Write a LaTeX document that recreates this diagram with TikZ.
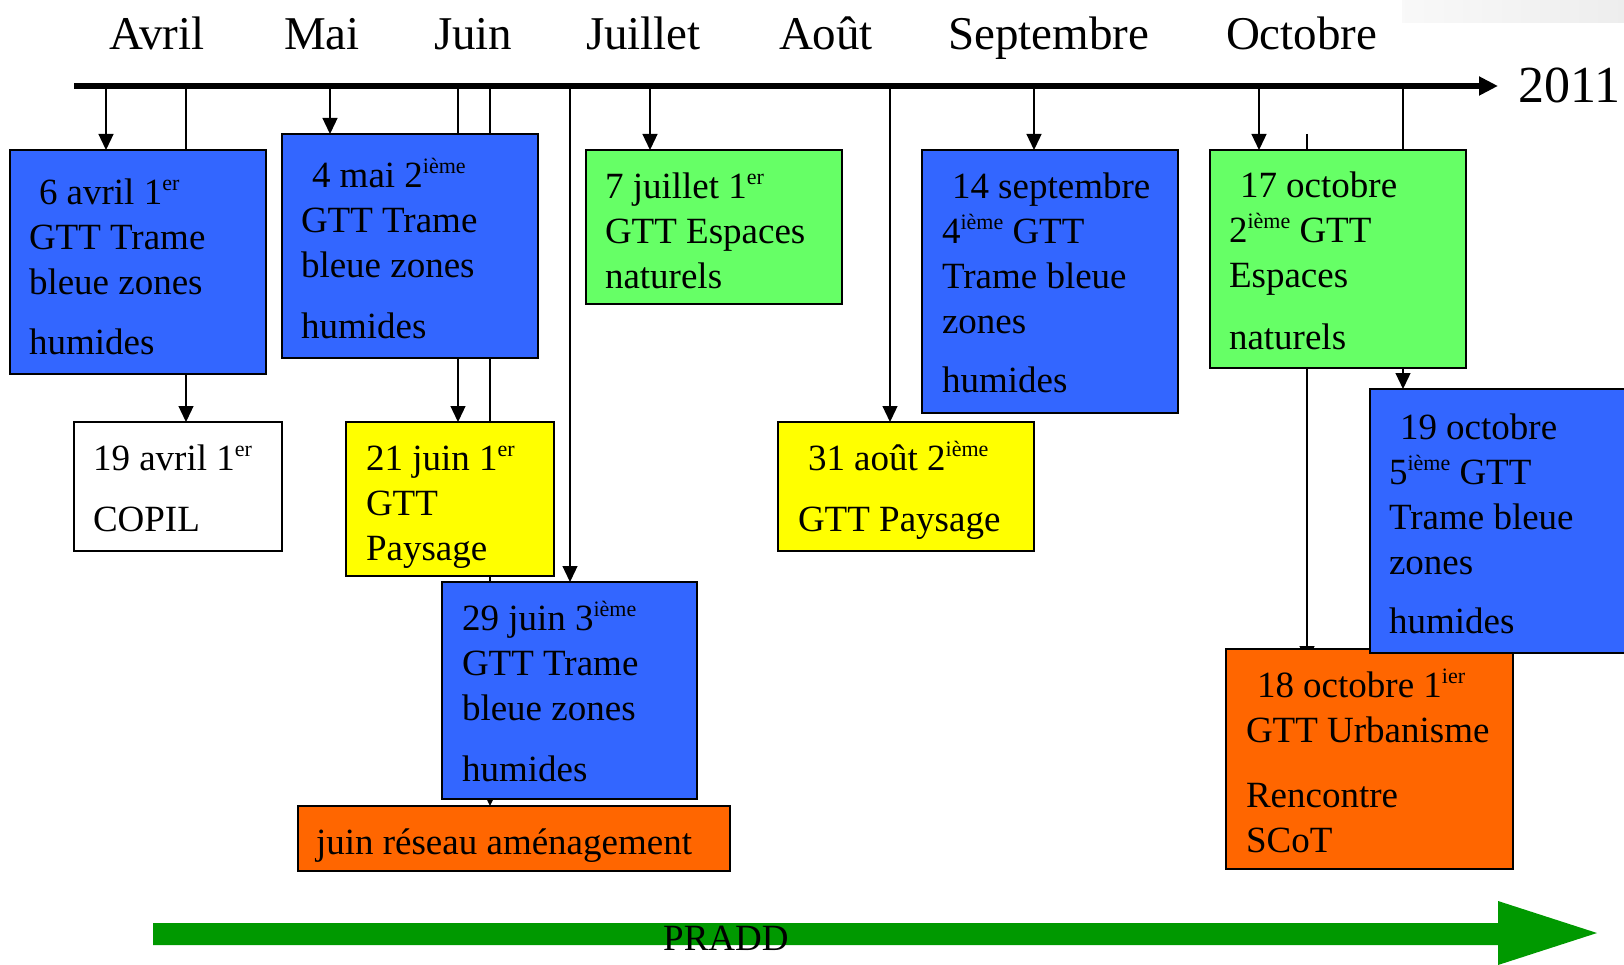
\documentclass[tikz,border=0pt]{standalone}
\usepackage{fontspec}
\setmainfont{Liberation Serif}
\usetikzlibrary{arrows.meta}
\definecolor{bblue}{HTML}{3366FF}
\definecolor{bgreen}{HTML}{66FF66}
\definecolor{byellow}{HTML}{FFFF00}
\definecolor{borange}{HTML}{FF6600}
\definecolor{pgreen}{HTML}{009900}
\newcommand\sx[1]{\raisebox{14pt}{\fontsize{22}{22}\selectfont #1}}
\newcommand\lines[1]{\parbox[t]{430pt}{\raggedright\fontsize{37}{45}\selectfont #1}}
\pgfdeclarelayer{bg}
\pgfsetlayers{bg,main}
\tikzset{
  bx/.style={draw=black, line width=2pt, rectangle, anchor=north west, inner sep=0pt, outer sep=0pt},
  txt/.style={anchor=base west, inner sep=0pt, outer sep=0pt},
  mon/.style={anchor=base west, inner sep=0pt, outer sep=0pt, font=\fontsize{47}{47}\selectfont},
  con/.style={line width=1.3pt, -{Triangle[length=16pt,width=15pt]}},
}
\begin{document}
\begin{tikzpicture}[x=1pt,y=-1pt]
\useasboundingbox (0,0) rectangle (1624,965);
\clip (0,0) rectangle (1624,965);
\shade[left color=gray!5, right color=gray!14] (1402,0) rectangle (1624,23);

% months
\node[mon] (mAvr) at (109,50) {Avril};
\node[mon] (mMai) at (284,50) {Mai};
\node[mon] (mJun) at (434,50) {Juin};
\node[mon] (mJul) at (586,50) {Juillet};
\node[mon] (mAou) at (779,50) {Août};
\node[mon] (mSep) at (948,50) {Septembre};
\node[mon] (mOct) at (1226,50) {Octobre};
\node[anchor=base west, inner sep=0pt, font=\fontsize{52}{52}\selectfont] (year) at (1518,103) {2011};

% timeline
\coordinate (tl0) at (74,86);
\coordinate (tl1) at (1498,86);
\draw[line width=5.5pt, -{Triangle[length=19pt,width=18pt]}] (tl0) -- (tl1);

% boxes
\node[bx, fill=bblue, minimum width=256pt, minimum height=224pt] (b1) at (10,150) {};
\node[txt] (t1) at (29,205) {\lines{\hspace*{10pt}6 avril 1\sx{er}\\GTT Trame\\bleue zones\\[15pt]humides}};
\node[bx, fill=bblue, minimum width=256pt, minimum height=224pt] (b2) at (282,134) {};
\node[txt] (t2) at (301,188) {\lines{\hspace*{11pt}4 mai 2\sx{ième}\\GTT Trame\\bleue zones\\[16pt]humides}};
\node[bx, fill=white, minimum width=208pt, minimum height=129pt] (b3) at (74,422) {};
\node[txt] (t3) at (93,470) {\lines{19 avril 1\sx{er}\\[16pt]COPIL}};
\node[bx, fill=byellow, minimum width=208pt, minimum height=154pt] (b4) at (346,422) {};
\node[txt] (t4) at (366,470) {\lines{21 juin 1\sx{er}\\GTT\\Paysage}};
\node[bx, fill=bblue, minimum width=255pt, minimum height=217pt] (b5) at (442,582) {};
\node[txt] (t5) at (462,630) {\lines{29 juin 3\sx{ième}\\GTT Trame\\bleue zones\\[16pt]humides}};
\node[bx, fill=borange, minimum width=432pt, minimum height=65pt] (b6) at (298,806) {};
\node[txt] (t6) at (316,854) {\lines{juin réseau aménagement}};
\node[bx, fill=bgreen, minimum width=256pt, minimum height=154pt] (b7) at (586,150) {};
\node[txt] (t7) at (605,199) {\lines{7 juillet 1\sx{er}\\GTT Espaces\\naturels}};
\node[bx, fill=byellow, minimum width=256pt, minimum height=129pt] (b8) at (778,422) {};
\node[txt] (t8) at (798,470) {\lines{\hspace*{10pt}31 août 2\sx{ième}\\[16pt]GTT Paysage}};
\node[bx, fill=bblue, minimum width=256pt, minimum height=263pt] (b9) at (922,150) {};
\node[txt] (t9) at (942,199) {\lines{\hspace*{10pt}14 septembre\\4\sx{ième} GTT\\Trame bleue\\zones\\[14pt]humides}};
\node[bx, fill=bgreen, minimum width=256pt, minimum height=218pt] (b10) at (1210,150) {};
\node[txt] (t10) at (1229,198) {\lines{\hspace*{11pt}17 octobre\\2\sx{ième} GTT\\Espaces\\[17pt]naturels}};
\node[bx, fill=borange, minimum width=287pt, minimum height=220pt] (b12) at (1226,649) {};
\node[txt] (t12) at (1246,697) {\lines{\hspace*{11pt}18 octobre 1\sx{ier}\\GTT Urbanisme\\[20pt]Rencontre\\SCoT}};
\node[bx, fill=bblue, minimum width=270pt, minimum height=264pt] (b11) at (1370,389) {};
\node[txt] (t11) at (1389,439) {\lines{\hspace*{11pt}19 octobre\\5\sx{ième} GTT\\Trame bleue\\zones\\[14pt]humides}};

% connectors
\begin{pgfonlayer}{bg}
\coordinate (c1) at (106,86);
\coordinate (c2) at (186,86);
\coordinate (c3) at (330,86);
\coordinate (c4) at (458,86);
\coordinate (c5) at (490,86);
\coordinate (c6) at (570,86);
\coordinate (c7) at (650,86);
\coordinate (c8) at (890,86);
\coordinate (c9) at (1034,86);
\coordinate (c10) at (1259,86);
\coordinate (c11) at (1307,134);
\coordinate (c12) at (1403,86);
\draw[con] (c1) -- (c1 |- b1.north);
\draw[con] (c2) -- (c2 |- b3.north);
\draw[con] (c3) -- (c3 |- b2.north);
\draw[con] (c4) -- (c4 |- b4.north);
\draw[con] (c5) -- (c5 |- b6.north);
\draw[con] (c6) -- (c6 |- b5.north);
\draw[con] (c7) -- (c7 |- b7.north);
\draw[con] (c8) -- (c8 |- b8.north);
\draw[con] (c9) -- (c9 |- b9.north);
\draw[con] (c10) -- (c10 |- b10.north);
\draw[con] (c11) -- ([yshift=-13pt]c11 |- b12.north);
\draw[con] (c12) -- (c12 |- b11.north);
\end{pgfonlayer}

% PRADD arrow
\fill[pgreen] (153,923) -- (1498,923) -- (1498,901) -- (1597,933) -- (1498,965) -- (1498,945) -- (153,945) -- cycle;
\node[anchor=base west, inner sep=0pt, font=\fontsize{37}{37}\selectfont] (pradd) at (663,950) {PRADD};
\end{tikzpicture}
\end{document}
